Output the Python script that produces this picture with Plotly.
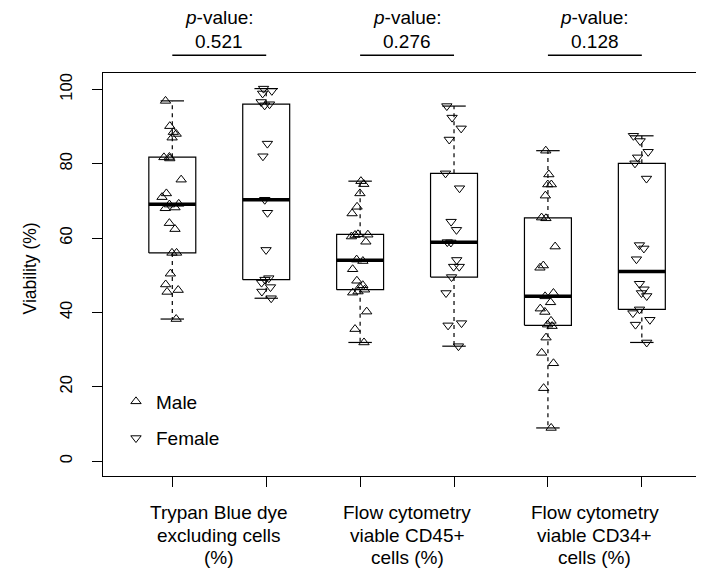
import numpy as np
import plotly.graph_objects as go

# ---------------- data ----------------
group_labels = ["Trypan Blue dye<br>excluding cells<br>(%)",
                "Flow cytometry<br>viable CD45+<br>cells (%)",
                "Flow cytometry<br>viable CD34+<br>cells (%)"]
p_values = ["0.521", "0.276", "0.128"]
sex_labels = ["Male", "Female"]
y_ticks = [0, 20, 40, 60, 80, 100]

trypan_male = [96.9, 90.1, 88.5, 88.0, 87.0, 81.8, 81.7, 81.4, 75.7, 72.0, 71.0, 69.2,
               69.0, 68.2, 68.0, 64.0, 62.4, 56.0, 56.0, 50.4, 47.5, 46.0, 45.5, 38.2]
trypan_female = [100.2, 99.6, 98.9, 96.6, 96.0, 95.7, 85.4, 82.0, 70.3, 66.8, 56.8,
                 49.2, 48.8, 48.0, 46.8, 45.6, 43.8]
cd45_male = [75.3, 74.5, 72.0, 68.4, 66.6, 61.0, 60.9, 60.8, 60.4, 59.0, 54.2, 53.8,
             51.6, 48.5, 47.3, 46.8, 46.1, 45.6, 45.3, 40.2, 35.5, 31.9]
cd45_female = [95.5, 92.4, 89.5, 86.5, 77.4, 73.4, 64.4, 62.2, 58.9, 58.8, 54.1, 52.3,
               52.3, 49.5, 45.2, 37.1, 36.5, 30.9]
cd34_male = [83.5, 77.1, 74.4, 74.4, 71.4, 65.5, 65.3, 57.7, 52.6, 52.0, 45.2, 44.3,
             42.7, 41.0, 40.1, 37.7, 36.7, 36.3, 33.2, 29.1, 26.3, 19.6, 8.9]
cd34_female = [87.5, 86.1, 83.2, 81.7, 80.1, 76.0, 58.1, 57.2, 54.3, 47.7, 46.2, 45.2,
               44.4, 40.8, 39.8, 38.0, 36.7, 31.9]

series = [trypan_male, trypan_female, cd45_male, cd45_female, cd34_male, cd34_female]
series_sex = ["Male", "Female", "Male", "Female", "Male", "Female"]

# ---------------- styling ----------------
FONT = "Liberation Sans, Arial, Helvetica, sans-serif"
INK = "black"
BOX_HALF = 0.25
STAPLE_HALF = 0.125
symbols = {"Male": "triangle-up-open", "Female": "triangle-down-open"}

# the page body has an 8px margin, so the figure is sized/positioned to compensate
PAGE_OFFSET = 8
FIG_W, FIG_H = 704 - PAGE_OFFSET, 569 - PAGE_OFFSET
PLOT_TOP, PLOT_BOTTOM = 72.7, 476.5       # in window pixels
PLOT_H = PLOT_BOTTOM - PLOT_TOP


def py(pix):
    """window pixel row -> paper y"""
    return (PLOT_BOTTOM - pix) / PLOT_H


def fivenum(v):
    x = np.sort(np.asarray(v, dtype=float))
    n = len(x)
    n4 = np.floor((n + 3) / 2) / 2
    d = np.array([1, n4, (n + 1) / 2, n + 1 - n4, n]) - 1
    return 0.5 * (x[np.floor(d).astype(int)] + x[np.ceil(d).astype(int)])


def box_stats(v):
    x = np.asarray(v, dtype=float)
    _, q1, med, q3, _ = fivenum(x)
    iqr = q3 - q1
    lo = x[x >= q1 - 1.5 * iqr].min()
    hi = x[x <= q3 + 1.5 * iqr].max()
    return lo, q1, med, q3, hi


fig = go.Figure()

for i, (vals, sex) in enumerate(zip(series, series_sex)):
    pos = i + 1
    lo, q1, med, q3, hi = box_stats(vals)
    # jittered points (library jitter), invisible box
    fig.add_trace(go.Box(
        y=vals, x0=pos, width=0.5, boxpoints="all", jitter=0.45, pointpos=0,
        line=dict(color="rgba(0,0,0,0)", width=0), fillcolor="rgba(0,0,0,0)",
        marker=dict(symbol=symbols[sex], size=9, color=INK,
                    line=dict(width=1, color=INK)),
        showlegend=False, hoverinfo="y"))
    # box rectangle
    fig.add_trace(go.Scatter(
        x=[pos - BOX_HALF, pos + BOX_HALF, pos + BOX_HALF, pos - BOX_HALF, pos - BOX_HALF],
        y=[q1, q1, q3, q3, q1], mode="lines",
        line=dict(color=INK, width=1.2), showlegend=False, hoverinfo="skip"))
    # median
    fig.add_trace(go.Scatter(
        x=[pos - BOX_HALF, pos + BOX_HALF], y=[med, med], mode="lines",
        line=dict(color=INK, width=3.5), showlegend=False, hoverinfo="skip"))
    # whiskers (dashed)
    fig.add_trace(go.Scatter(
        x=[pos, pos, None, pos, pos], y=[q3, hi, None, q1, lo], mode="lines",
        line=dict(color=INK, width=1.2, dash="4px,4px"), showlegend=False, hoverinfo="skip"))
    # staples
    fig.add_trace(go.Scatter(
        x=[pos - STAPLE_HALF, pos + STAPLE_HALF, None, pos - STAPLE_HALF, pos + STAPLE_HALF],
        y=[hi, hi, None, lo, lo], mode="lines",
        line=dict(color=INK, width=1.2), showlegend=False, hoverinfo="skip"))

# legend entries
for sex in sex_labels:
    fig.add_trace(go.Scatter(
        x=[None], y=[None], mode="markers", name=sex, legendgroup=sex,
        marker=dict(symbol=symbols[sex], size=9, color=INK, line=dict(width=1, color=INK))))

# group labels below the axis (one annotation per line) and p-values above the plot
label_rows = [513, 536, 558]
for g, (lab, pv) in enumerate(zip(group_labels, p_values)):
    left, right = 2 * g + 1, 2 * g + 2
    center = (left + right) / 2
    for line_text, row in zip(lab.split("<br>"), label_rows):
        fig.add_annotation(x=center, xref="x", y=py(row), yref="paper", text=line_text,
                           showarrow=False, yanchor="middle", xanchor="center",
                           font=dict(family=FONT, size=19, color=INK))
    fig.add_annotation(x=center, xref="x", y=py(17), yref="paper", text="<i>p</i>-value:",
                       showarrow=False, yanchor="middle", xanchor="center",
                       font=dict(family=FONT, size=19, color=INK))
    fig.add_annotation(x=center, xref="x", y=py(41), yref="paper", text=pv,
                       showarrow=False, yanchor="middle", xanchor="center",
                       font=dict(family=FONT, size=19, color=INK))
    fig.add_shape(type="line", xref="x", yref="paper", x0=left, x1=right,
                  y0=py(55), y1=py(55), line=dict(color=INK, width=1.5))

# y-axis title
fig.add_annotation(x=(30 - 103) / 601, xref="paper", y=py(268.5), yref="paper",
                   text="Viability (%)", textangle=-90, showarrow=False,
                   xanchor="center", yanchor="middle",
                   font=dict(family=FONT, size=17.5, color=INK))

fig.update_layout(
    width=FIG_W, height=FIG_H,
    margin=dict(l=103 - PAGE_OFFSET, r=0, t=PLOT_TOP - PAGE_OFFSET,
                b=FIG_H - (PLOT_BOTTOM - PAGE_OFFSET), autoexpand=False),
    paper_bgcolor="white", plot_bgcolor="white",
    boxmode="overlay",
    font=dict(family=FONT, size=17, color=INK),
    showlegend=True,
    legend=dict(x=0.0216, y=0.232, xanchor="left", yanchor="top",
                bgcolor="rgba(0,0,0,0)", font=dict(family=FONT, size=19, color=INK),
                tracegroupgap=9, traceorder="grouped", itemsizing="trace"),
    xaxis=dict(range=[0.262, 6.662], tickvals=[1, 2, 3, 4, 5, 6],
               ticktext=["", "", "", "", "", ""], ticks="outside", ticklen=10,
               tickcolor=INK, showline=True, mirror=True, linecolor=INK, linewidth=1.2,
               showgrid=False, zeroline=False, automargin=False),
    yaxis=dict(range=[-4.03, 104.4], tickvals=y_ticks, ticks="outside", ticklen=10,
               tickcolor=INK, tickangle=-90, ticklabelstandoff=13,
               tickfont=dict(family=FONT, size=16.5, color=INK),
               showline=True, mirror=False, linecolor=INK, linewidth=1.2,
               showgrid=False, zeroline=False, automargin=False),
)

fig.write_html("out.html")
